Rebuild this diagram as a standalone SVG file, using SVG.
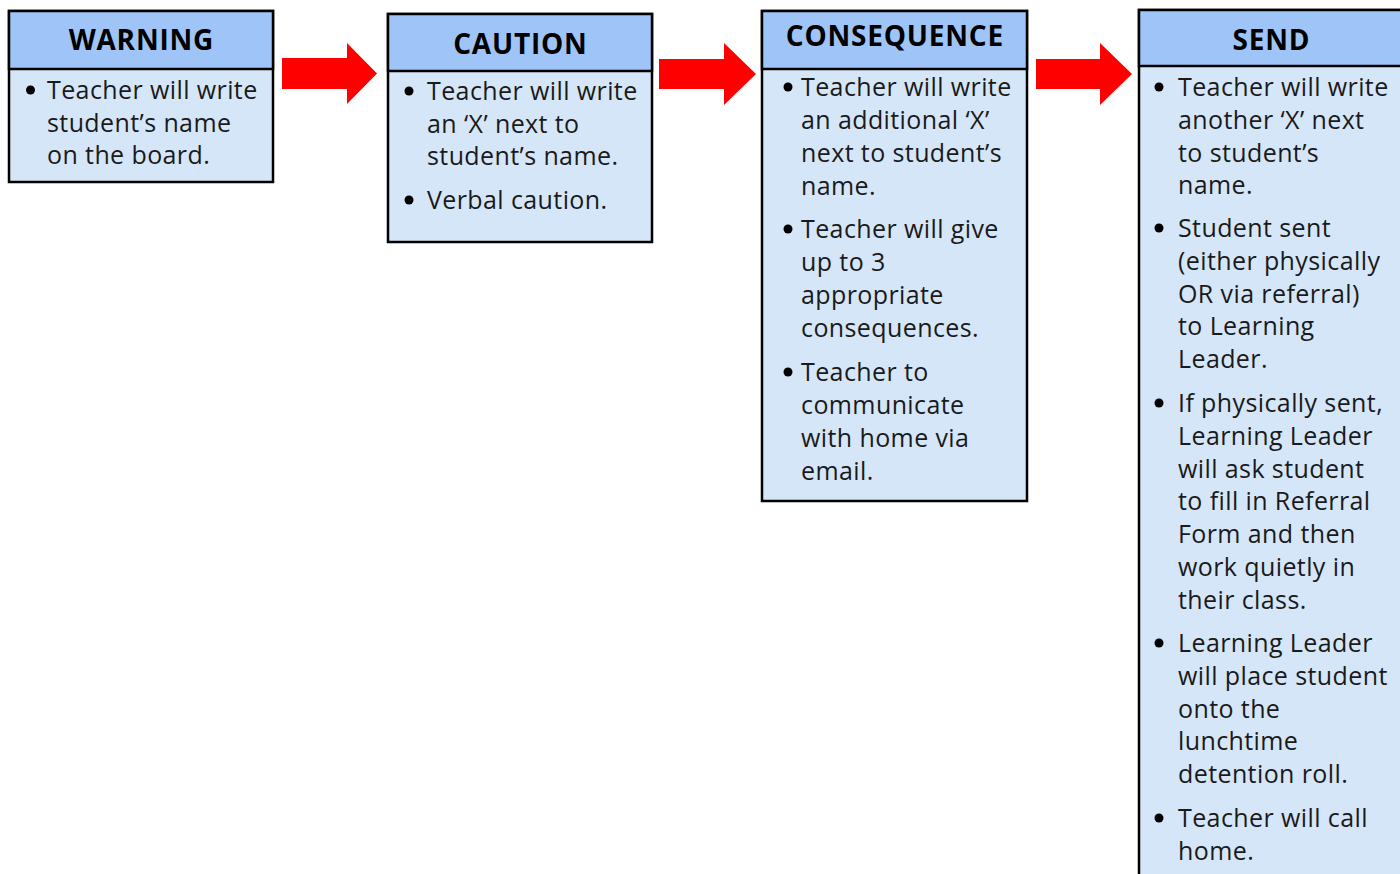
<svg xmlns="http://www.w3.org/2000/svg" width="1400" height="874" viewBox="0 0 1400 874">
<style>
.body{fill:#d6e6f9;stroke:#000;stroke-width:2.5}
.head{fill:#9fc5f8;stroke:#000;stroke-width:2.5}
.title{font-family:"Open Sans","Liberation Sans",sans-serif;font-weight:700;font-size:28px;letter-spacing:0.8px;fill:#000;text-anchor:middle}
.t{font-family:"Open Sans","Liberation Sans",sans-serif;font-size:25px;letter-spacing:0.4px;fill:#1a1a1a}
.dot{fill:#000}
.arrow{fill:#ff0000}
</style>
<rect width="1400" height="874" fill="#fff"/>
<g id="connectors">
<polygon class="arrow" points="282,58 347,58 347,43 377,73.5 347,104 347,89 282,89"/>
<polygon class="arrow" points="659,59 724,59 724,43 756,74 724,105 724,89 659,89"/>
<polygon class="arrow" points="1036,59 1100,59 1100,43 1132,74 1100,105 1100,89 1036,89"/>
</g>
<g id="warning">
<rect class="body" x="9" y="11" width="264" height="171"/>
<rect class="head" x="9" y="11" width="264" height="58"/>
<text class="title" x="141.4" y="50">WARNING</text>
<circle class="dot" cx="30.5" cy="90" r="4.5"/>
<text class="t" x="47" y="99">Teacher will write</text>
<text class="t" x="47" y="131.5">student’s name</text>
<text class="t" x="47" y="164">on the board.</text>
</g>
<g id="caution">
<rect class="body" x="388" y="14" width="264" height="228"/>
<rect class="head" x="388" y="14" width="264" height="57"/>
<text class="title" x="520.4" y="54">CAUTION</text>
<circle class="dot" cx="409" cy="91" r="4.5"/>
<text class="t" x="427" y="100">Teacher will write</text>
<text class="t" x="427" y="132.5">an ‘X’ next to</text>
<text class="t" x="427" y="165">student’s name.</text>
<circle class="dot" cx="409" cy="200" r="4.5"/>
<text class="t" x="427" y="209">Verbal caution.</text>
</g>
<g id="consequence">
<rect class="body" x="762" y="11" width="265" height="490"/>
<rect class="head" x="762" y="11" width="265" height="58"/>
<text class="title" x="894.9" y="46">CONSEQUENCE</text>
<circle class="dot" cx="788" cy="87" r="4.5"/>
<text class="t" x="801" y="96">Teacher will write</text>
<text class="t" x="801" y="129">an additional ‘X’</text>
<text class="t" x="801" y="162">next to student’s</text>
<text class="t" x="801" y="195">name.</text>
<circle class="dot" cx="788" cy="229" r="4.5"/>
<text class="t" x="801" y="238">Teacher will give</text>
<text class="t" x="801" y="271">up to 3</text>
<text class="t" x="801" y="304">appropriate</text>
<text class="t" x="801" y="337">consequences.</text>
<circle class="dot" cx="788" cy="372" r="4.5"/>
<text class="t" x="801" y="381">Teacher to</text>
<text class="t" x="801" y="414">communicate</text>
<text class="t" x="801" y="447">with home via</text>
<text class="t" x="801" y="480">email.</text>
</g>
<g id="send">
<rect class="body" x="1139" y="10" width="266" height="880"/>
<rect class="head" x="1139" y="10" width="266" height="56"/>
<text class="title" x="1271.4" y="50">SEND</text>
<circle class="dot" cx="1159" cy="87" r="4.5"/>
<text class="t" x="1178" y="96">Teacher will write</text>
<text class="t" x="1178" y="128.8">another ‘X’ next</text>
<text class="t" x="1178" y="161.6">to student’s</text>
<text class="t" x="1178" y="194.4">name.</text>
<circle class="dot" cx="1159" cy="228" r="4.5"/>
<text class="t" x="1178" y="237">Student sent</text>
<text class="t" x="1178" y="269.8">(either physically</text>
<text class="t" x="1178" y="302.6">OR via referral)</text>
<text class="t" x="1178" y="335.4">to Learning</text>
<text class="t" x="1178" y="368.2">Leader.</text>
<circle class="dot" cx="1159" cy="403" r="4.5"/>
<text class="t" x="1178" y="412">If physically sent,</text>
<text class="t" x="1178" y="444.8">Learning Leader</text>
<text class="t" x="1178" y="477.6">will ask student</text>
<text class="t" x="1178" y="510.4">to fill in Referral</text>
<text class="t" x="1178" y="543.2">Form and then</text>
<text class="t" x="1178" y="576">work quietly in</text>
<text class="t" x="1178" y="608.8">their class.</text>
<circle class="dot" cx="1159" cy="643" r="4.5"/>
<text class="t" x="1178" y="652">Learning Leader</text>
<text class="t" x="1178" y="684.8">will place student</text>
<text class="t" x="1178" y="717.6">onto the</text>
<text class="t" x="1178" y="750.4">lunchtime</text>
<text class="t" x="1178" y="783.2">detention roll.</text>
<circle class="dot" cx="1159" cy="818" r="4.5"/>
<text class="t" x="1178" y="827">Teacher will call</text>
<text class="t" x="1178" y="860">home.</text>
</g>
</svg>
